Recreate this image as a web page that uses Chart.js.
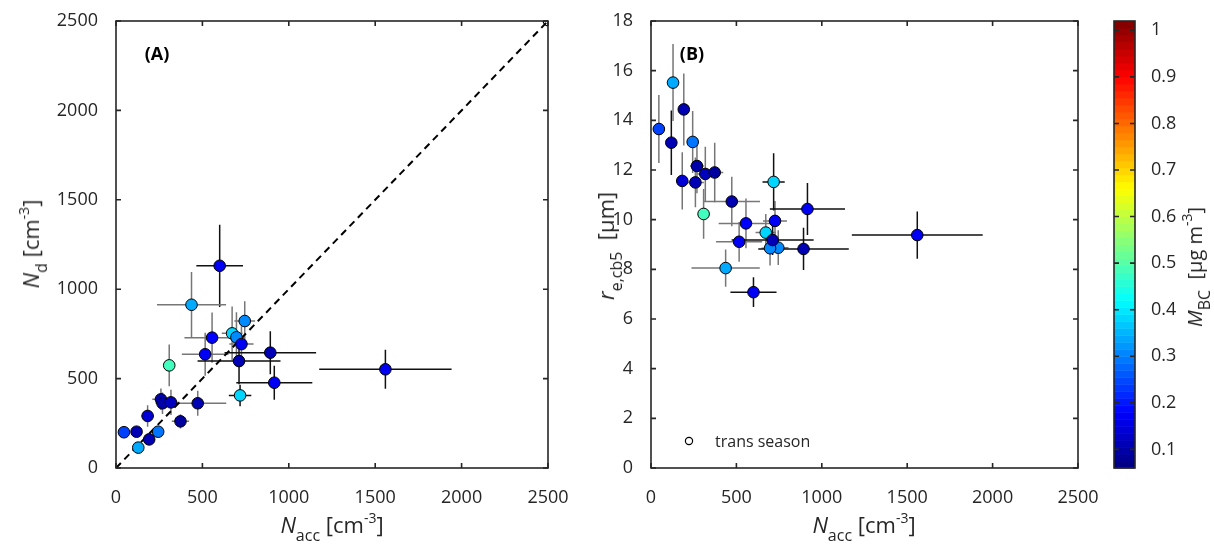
<!DOCTYPE html>
<html>
<head>
<meta charset="utf-8">
<script src="https://cdn.jsdelivr.net/npm/chart.js@4.4.1/dist/chart.umd.min.js"></script>
<style>
  body { margin: 0; background: #fff; width: 1214px; height: 554px; position: relative; overflow: hidden;
         font-family: "Open Sans", sans-serif; color: #262626; }
  canvas { position: absolute; top: 0; }
  .lbl { position: absolute; white-space: nowrap; font-size: 22px; transform: translate(-50%, -50%); line-height: 1; }
  .rot { transform: translate(-50%, -50%) rotate(-90deg); }
  .sub { font-size: 16px; position: relative; top: 8px; }
  .sup { font-size: 14px; position: relative; top: -10px; }
</style>
</head>
<body>
<canvas id="chartA" width="570" height="554" style="left:0"></canvas>
<canvas id="chartB" width="530" height="554" style="left:570px"></canvas>
<canvas id="cbar" width="114" height="554" style="left:1100px"></canvas>

<div class="lbl" style="left:332px;top:524px"><i>N</i><span class="sub">acc</span> [cm<span class="sup">-3</span>]</div>
<div class="lbl" style="left:864px;top:524px"><i>N</i><span class="sub">acc</span> [cm<span class="sup">-3</span>]</div>
<div class="lbl rot" style="left:30px;top:244px"><i>N</i><span class="sub">d</span> [cm<span class="sup">-3</span>]</div>
<div class="lbl rot" style="left:605px;top:246px"><i>r</i><span class="sub">e,cb5</span> &nbsp;[μm]</div>
<div class="lbl rot" style="left:1195px;top:267px;font-size:20px"><i>M</i><span class="sub">BC</span> &nbsp;[μg m<span class="sup">-3</span>]</div>

<script>
// values, one entry per flight
const nacc   = [600, 437, 745, 672, 697, 726, 556, 516, 893, 712, 308, 1559, 916, 718, 260, 269, 318, 473, 183, 373, 46, 119, 244, 192, 129];
const nd     = [1131, 913, 822, 753, 731, 693, 729, 636, 645, 598, 574, 552, 477, 406, 384, 362, 367, 362, 291, 261, 200, 203, 203, 160, 114];
const re     = [7.08, 8.05, 8.87, 9.48, 8.85, 9.95, 9.85, 9.11, 8.82, 9.18, 10.23, 9.38, 10.43, 11.52, 11.50, 12.16, 11.84, 10.73, 11.56, 11.90, 13.65, 13.10, 13.13, 14.44, 15.52];
const mbc    = [0.17, 0.34, 0.31, 0.38, 0.31, 0.17, 0.18, 0.17, 0.11, 0.11, 0.48, 0.17, 0.17, 0.38, 0.11, 0.10, 0.12, 0.11, 0.14, 0.09, 0.24, 0.11, 0.29, 0.11, 0.34];
const errNacc = [135, 200, 60, 60, 50, 70, 160, 135, 265, 240, 30, 383, 220, 65, 50, 40, 50, 165, 35, 50, 20, 20, 30, 25, 25];
const errNd   = [230, 183, 110, 150, 140, 100, 140, 120, 120, 130, 117, 109, 95, 60, 60, 60, 70, 70, 60, 40, 25, 25, 25, 30, 25];
const errRe   = [0.6, 0.75, 0.7, 0.75, 0.7, 0.8, 1.0, 0.8, 0.85, 0.6, 1.0, 0.95, 1.05, 1.15, 1.0, 1.1, 1.1, 1.0, 1.15, 1.2, 1.37, 1.3, 1.25, 1.45, 1.55];

// transition season point (open circle)
const transNacc = [2500];
const transNd = [2500];

const naccTicks = [0, 500, 1000, 1500, 2000, 2500];
const ndTicks = [0, 500, 1000, 1500, 2000, 2500];
const reTicks = [0, 2, 4, 6, 8, 10, 12, 14, 16, 18];
const cbTicks = [0.1, 0.2, 0.3, 0.4, 0.5, 0.6, 0.7, 0.8, 0.9, 1];
const cbMin = 0.06, cbMax = 1.02;

// error bars drawn darker for these flights
const darkBars = [0, 8, 9, 11, 12, 13, 21];

const axisColor = '#262626';
const tickFont = { family: 'Open Sans', size: 18 };

function jet(v) {
  const t = Math.min(1, Math.max(0, (v - cbMin) / (cbMax - cbMin)));
  const c = k => Math.round(255 * Math.min(1, Math.max(0, 1.5 - Math.abs(4 * t - k))));
  return 'rgb(' + c(3) + ',' + c(2) + ',' + c(1) + ')';
}

function fixTicks(list) {
  return function (scale) { scale.ticks = list.map(v => ({ value: v })); };
}

// box round the plot with inward ticks on all sides
const framePlugin = {
  id: 'frame',
  afterDraw(chart) {
    const { ctx, chartArea: a, scales } = chart;
    ctx.save();
    ctx.strokeStyle = axisColor;
    ctx.lineWidth = 1.6;
    ctx.strokeRect(a.left, a.top, a.right - a.left, a.bottom - a.top);
    const len = 5;
    ctx.beginPath();
    if (scales.x && scales.x.options.display) {
      scales.x.ticks.forEach(t => {
        const px = scales.x.getPixelForValue(t.value);
        ctx.moveTo(px, a.bottom); ctx.lineTo(px, a.bottom - len);
        ctx.moveTo(px, a.top); ctx.lineTo(px, a.top + len);
      });
    }
    scales.y.ticks.forEach(t => {
      const py = scales.y.getPixelForValue(t.value);
      ctx.moveTo(a.left, py); ctx.lineTo(a.left + len, py);
      ctx.moveTo(a.right, py); ctx.lineTo(a.right - len, py);
    });
    ctx.stroke();
    ctx.restore();
  }
};

function makeErrorBars(xs, ys, ex, ey) {
  return {
    id: 'errorBars',
    beforeDatasetsDraw(chart) {
      const { ctx, chartArea: a, scales: { x, y } } = chart;
      ctx.save();
      ctx.beginPath();
      ctx.rect(a.left, a.top, a.right - a.left, a.bottom - a.top);
      ctx.clip();
      ctx.lineWidth = 1.5;
      xs.forEach((xv, i) => {
        const yv = ys[i];
        ctx.strokeStyle = darkBars.includes(i) ? '#111' : '#777';
        ctx.beginPath();
        ctx.moveTo(x.getPixelForValue(xv - ex[i]), y.getPixelForValue(yv));
        ctx.lineTo(x.getPixelForValue(xv + ex[i]), y.getPixelForValue(yv));
        ctx.moveTo(x.getPixelForValue(xv), y.getPixelForValue(yv - ey[i]));
        ctx.lineTo(x.getPixelForValue(xv), y.getPixelForValue(yv + ey[i]));
        ctx.stroke();
      });
      ctx.restore();
    }
  };
}

function panelLabel(text, legend) {
  return {
    id: 'panelLabel',
    afterDraw(chart) {
      const { ctx, chartArea: a } = chart;
      ctx.save();
      ctx.fillStyle = '#000';
      ctx.font = 'bold 18px "Open Sans"';
      ctx.textAlign = 'center';
      ctx.textBaseline = 'middle';
      ctx.fillText(text, a.left + 41, a.top + 34);
      if (legend) {
        ctx.beginPath();
        ctx.arc(a.left + 38, a.bottom - 27, 3.6, 0, Math.PI * 2);
        ctx.strokeStyle = '#000';
        ctx.lineWidth = 1.2;
        ctx.stroke();
        ctx.fillStyle = '#262626';
        ctx.font = '16px "Open Sans"';
        ctx.textAlign = 'left';
        ctx.fillText('trans season', a.left + 64, a.bottom - 26);
      }
      ctx.restore();
    }
  };
}

function axes(yTicks, yMax, yWidth) {
  return {
    x: {
      type: 'linear', min: 0, max: 2500,
      afterBuildTicks: fixTicks(naccTicks),
      afterFit: s => { s.height = 86; s.paddingLeft = 0; s.paddingRight = 0; },
      grid: { display: false }, border: { display: false },
      ticks: { font: tickFont, color: axisColor, padding: 11, maxRotation: 0, callback: v => String(v) }
    },
    y: {
      type: 'linear', min: 0, max: yMax,
      afterBuildTicks: fixTicks(yTicks),
      afterFit: s => { s.width = yWidth; s.paddingTop = 0; s.paddingBottom = 0; },
      grid: { display: false }, border: { display: false },
      ticks: { font: tickFont, color: axisColor, padding: 10, callback: v => String(v) }
    }
  };
}

const pts = (xs, ys) => xs.map((v, i) => ({ x: v, y: ys[i] }));
const colors = mbc.map(jet);

new Chart(document.getElementById('chartA'), {
  type: 'scatter',
  data: {
    datasets: [
      { data: pts(nacc, nd), pointBackgroundColor: colors, pointBorderColor: '#000', pointBorderWidth: 1, pointRadius: 5.8, order: 1 },
      { data: pts(transNacc, transNd), pointBackgroundColor: 'rgba(0,0,0,0)', pointBorderColor: '#000', pointBorderWidth: 1.2, pointRadius: 4.8, order: 0 },
      { type: 'line', data: [{ x: 0, y: 0 }, { x: 2500, y: 2500 }], borderColor: '#000', borderWidth: 2, borderDash: [7, 5], pointRadius: 0, order: 2 }
    ]
  },
  options: {
    responsive: false, animation: false, events: [],
    layout: { padding: { top: 21, right: 22, left: 0, bottom: 0 } },
    plugins: { legend: { display: false }, tooltip: { enabled: false } },
    scales: axes(ndTicks, 2500, 116)
  },
  plugins: [makeErrorBars(nacc, nd, errNacc, errNd), framePlugin, panelLabel('(A)', false)]
});

new Chart(document.getElementById('chartB'), {
  type: 'scatter',
  data: {
    datasets: [
      { data: pts(nacc, re), pointBackgroundColor: colors, pointBorderColor: '#000', pointBorderWidth: 1, pointRadius: 5.8 }
    ]
  },
  options: {
    responsive: false, animation: false, events: [],
    layout: { padding: { top: 21, right: 22, left: 0, bottom: 0 } },
    plugins: { legend: { display: false }, tooltip: { enabled: false } },
    scales: axes(reTicks, 18, 81)
  },
  plugins: [makeErrorBars(nacc, re, errNacc, errRe), framePlugin, panelLabel('(B)', true)]
});

// colour bar: jet bands laid out along a linear y scale
const cbarPlugin = {
  id: 'cbarFill',
  beforeDatasetsDraw(chart) {
    const { ctx, chartArea: a, scales: { y } } = chart;
    const n = 64;
    for (let k = 0; k < n; k++) {
      const v0 = cbMin + (cbMax - cbMin) * k / n;
      const v1 = cbMin + (cbMax - cbMin) * (k + 1) / n;
      const p0 = y.getPixelForValue(v0), p1 = y.getPixelForValue(v1);
      ctx.fillStyle = jet((v0 + v1) / 2);
      ctx.fillRect(a.left, p1, a.right - a.left, p0 - p1 + 0.5);
    }
  }
};

new Chart(document.getElementById('cbar'), {
  type: 'scatter',
  data: { datasets: [{ data: [] }] },
  options: {
    responsive: false, animation: false, events: [],
    layout: { padding: { top: 21, right: 0, left: 14, bottom: 86 } },
    plugins: { legend: { display: false }, tooltip: { enabled: false } },
    scales: {
      x: { type: 'linear', display: false, min: 0, max: 1 },
      y: {
        type: 'linear', position: 'right', min: cbMin, max: cbMax,
        afterBuildTicks: fixTicks(cbTicks),
        afterFit: s => { s.width = 79; s.paddingTop = 0; s.paddingBottom = 0; },
        grid: { display: false }, border: { display: false },
        ticks: { font: tickFont, color: axisColor, padding: 8, callback: v => String(v) }
      }
    }
  },
  plugins: [cbarPlugin, framePlugin]
});
</script>
</body>
</html>
